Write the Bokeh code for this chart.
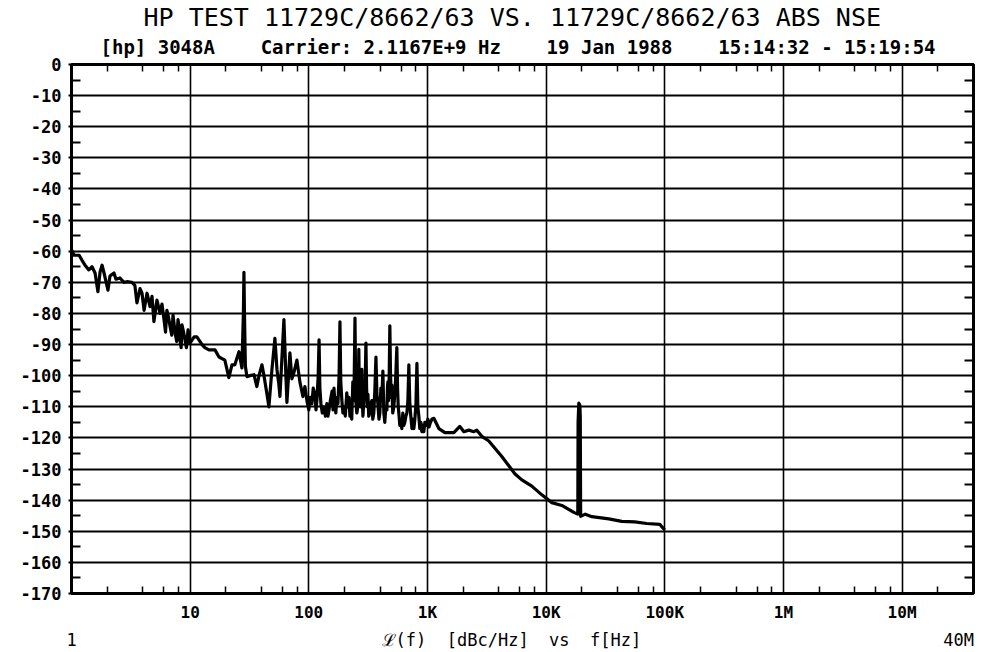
from bokeh.plotting import figure
from bokeh.models import FixedTicker, LogAxis, LinearAxis, ColumnDataSource, Title
from bokeh.embed import file_html
from bokeh.resources import INLINE

# ---- data ----
freq_hz = [
    1.00, 1.05, 1.16, 1.23, 1.30, 1.40, 1.49, 1.58, 1.67, 1.74, 1.81, 1.88, 2.03, 2.11,
    2.28, 2.37, 2.56, 2.77, 2.93, 3.23, 3.42, 3.56, 3.78, 3.93, 4.09, 4.33, 4.59, 4.77,
    4.95, 5.25, 5.57, 5.79, 6.02, 6.20, 6.37, 6.55, 6.76, 7.00, 7.17, 7.30, 7.45, 7.70,
    7.90, 8.05, 8.20, 8.40, 8.53, 8.80, 9.05, 9.30, 9.60, 9.80, 9.97, 10.8,
    11.4, 12.6, 13.3, 14.4, 16.2, 17.5, 19.6, 21.2, 22.5, 23.8, 25.8, 27.3, 28.1, 28.4,
    28.7, 29.2, 30.1, 31.9, 34.5, 36.5, 38.0, 40.3, 41.9, 44.4, 46.1, 48.9, 51.8, 53.9,
    56.0, 57.1, 61.7, 64.1, 65.4, 69.3, 72.0, 74.9, 79.4, 84.1, 89.2, 92.7, 96.4,
    100, 103, 106, 109, 112.6, 115, 117, 120, 122, 124, 126.5, 130, 134, 138, 142, 145,
    148, 152, 157, 160, 163, 166, 169, 172, 176, 180, 183, 186, 190, 194, 197.5, 203,
    209, 213, 218, 222, 226, 230, 235, 240, 245, 249, 254, 259, 262, 264, 267, 269, 273,
    277, 280, 283, 286, 291, 297, 300, 303, 307, 311, 315, 320, 327, 333, 340, 346, 353,
    360, 368, 375, 382, 390, 397, 405, 412, 421, 429, 437, 446, 455, 460, 464, 470, 476,
    482, 488, 495, 501, 510, 521, 530, 541, 552, 560, 567, 574, 585, 597, 608, 620, 632,
    645, 658, 671, 684, 697, 710, 724, 740, 753, 768, 783, 800, 815, 830, 846, 862, 880,
    897, 915, 932, 951, 975, 1008, 1030, 1060, 1090, 1132, 1248, 1402, 1669, 1874, 2026,
    2233, 2460, 2607, 2872, 3290, 4234, 5450, 6242, 7579, 9203, 11175, 13568, 17280,
    18500, 18600, 18870, 19240, 19400, 19550, 21390, 24270, 33750, 43440, 55880, 70540,
    90780, 100000,
]
level_dbc = [
    -59.5, -61.3, -61.3, -63, -64.5, -66, -65, -67, -73, -66.7, -64.5, -67, -72.5, -68,
    -67, -69, -68.6, -70, -69.8, -70, -71, -76.6, -72, -73.5, -79, -73.5, -77.8, -74.5,
    -82.6, -75.7, -80, -77, -82, -86, -79, -81, -84, -87, -80.5, -83, -86, -89,
    -82, -84, -88.5, -91, -83.7, -86, -88.5, -91, -85.3, -87, -89.5, -87.5,
    -87.5, -90, -91, -91.7, -91.7, -94, -95, -100.6, -96.5, -96.5, -92.3, -97.5, -80, -66.8,
    -80, -97, -100.3, -100, -99.7, -103.5, -100, -96.5, -100, -106, -110, -98, -88, -98,
    -103, -106.7, -82, -100, -108.6, -92.7, -101, -99, -95, -102, -106.7, -103.5, -108,
    -111, -107, -109, -104, -106, -111, -108, -100, -88.5, -104, -109, -112, -110, -113, -109, -113,
    -111, -108, -105, -111, -104, -109, -112, -107, -109, -100, -82.7, -102, -108, -112, -110, -113,
    -105.5, -110, -107, -113, -110, -114, -102, -108, -81.5, -108, -112, -110, -103, -91.5, -107, -104, -110,
    -100, -98, -109, -113, -108, -107, -98, -89.5, -104, -110, -106, -113, -112, -109, -108, -114, -112,
    -105, -94, -106, -109, -114, -112, -104, -108, -98.5, -112, -115, -110, -111, -104, -102, -108, -100,
    -84, -99, -107, -103, -112, -110, -106, -100, -91, -104, -110, -112, -116, -114, -117, -112, -116,
    -115, -113, -112, -108, -96.5, -109, -113, -117, -114, -117, -114, -109, -96, -110, -113, -117, -115,
    -118, -116, -118, -115, -116, -114, -116.5, -115, -114, -113.7, -117, -118.3, -118.3, -116.3, -118,
    -117.5, -118, -117.5, -119.5, -121, -126, -131.5, -133.5, -135.5, -138.3, -140.8, -141.7, -144,
    -144.5, -115, -108.8, -109.5, -113, -145.2, -144.5, -145.3, -146, -146.8, -147, -147.5,
    -147.8, -149.6,
]

x_major = [10, 100, 1000, 10000, 100000, 1000000, 10000000]
x_major_labels = ["10", "100", "1K", "10K", "100K", "1M", "10M"]
y_major = list(range(-170, 1, 10))
y_major_labels = [str(v) for v in y_major]

NB = "\u00a0"
title_text = "HP TEST 11729C/8662/63 VS. 11729C/8662/63 ABS NSE"
subtitle_text = ("[hp]" + NB + "3048A" + NB * 4 + "Carrier:" + NB + "2.1167E+9" + NB + "Hz"
                 + NB * 4 + "19" + NB + "Jan" + NB + "1988" + NB * 4
                 + "15:14:32" + NB + "-" + NB + "15:19:54")
x_title_text = "\u2112(f)" + NB * 2 + "[dBc/Hz]" + NB * 2 + "vs" + NB * 2 + "f[Hz]"
x_start_text = "1"
x_end_text = "40M"

# ---- figure ----
MONO = "DejaVu Sans Mono"
p = figure(width=994, height=652, x_axis_type="log", x_range=(1, 4e7), y_range=(-170, 0),
           output_backend="svg", toolbar_location=None,
           min_border_left=71, min_border_right=21, min_border_top=63, min_border_bottom=57)
p.background_fill_color = "white"
p.border_fill_color = "white"
p.outline_line_color = "black"
p.outline_line_width = 3

minor_x = [m * 10 ** d for d in range(0, 8) for m in (2, 4, 6, 8) if m * 10 ** d < 4e7]
minor_y = list(range(-165, 0, 10))

xa = p.xaxis[0]
xa.ticker = FixedTicker(ticks=x_major, minor_ticks=minor_x)
xa.major_label_overrides = dict(zip(x_major, x_major_labels))
xa.axis_line_color = None
xa.major_tick_in = 0
xa.major_tick_out = 0
xa.minor_tick_in = 7
xa.minor_tick_out = 0
xa.minor_tick_line_width = 1.5
xa.minor_tick_line_color = "black"
xa.major_label_text_font = MONO
xa.major_label_text_font_style = "bold"
xa.major_label_text_font_size = "16px"
xa.major_label_text_color = "black"
xa.major_label_standoff = 9

# second row under the axis: "1", the axis title, "40M"
row_ticks = [1.0, 5100.0, 3.0e7]
row_labels = [x_start_text, x_title_text, x_end_text]
xb = LogAxis(ticker=FixedTicker(ticks=row_ticks, minor_ticks=[]),
             major_label_overrides=dict(zip(row_ticks, row_labels)),
             axis_line_color=None, major_tick_line_color=None, minor_tick_line_color=None,
             major_tick_in=0, major_tick_out=0, minor_tick_in=0, minor_tick_out=0,
             major_label_text_font=MONO, major_label_text_font_size="17px",
             major_label_text_color="black", major_label_standoff=5)
p.add_layout(xb, "below")

ya = p.yaxis[0]
ya.ticker = FixedTicker(ticks=y_major, minor_ticks=minor_y)
ya.major_label_overrides = dict(zip(y_major, y_major_labels))
ya.axis_line_color = None
ya.major_tick_in = 0
ya.major_tick_out = 3
ya.major_tick_line_width = 2
ya.major_tick_line_color = "black"
ya.minor_tick_in = 9
ya.minor_tick_out = 0
ya.minor_tick_line_width = 2
ya.minor_tick_line_color = "black"
ya.major_label_text_font = MONO
ya.major_label_text_font_style = "bold"
ya.major_label_text_font_size = "17px"
ya.major_label_text_color = "black"
ya.major_label_standoff = 7

top = LogAxis(ticker=FixedTicker(ticks=x_major, minor_ticks=minor_x),
              major_label_overrides={t: " " for t in x_major},
              major_label_text_font_size="1px", axis_line_color=None,
              major_tick_in=0, major_tick_out=0, minor_tick_in=7, minor_tick_out=0,
              minor_tick_line_width=1.5, minor_tick_line_color="black", major_label_standoff=0)
p.add_layout(top, "above")
right = LinearAxis(ticker=FixedTicker(ticks=y_major, minor_ticks=minor_y),
                   major_label_overrides={t: " " for t in y_major},
                   major_label_text_font_size="1px", axis_line_color=None,
                   major_tick_in=0, major_tick_out=0, minor_tick_in=9, minor_tick_out=0,
                   minor_tick_line_width=2, minor_tick_line_color="black", major_label_standoff=0)
p.add_layout(right, "right")

p.add_layout(Title(text=subtitle_text, align="left", offset=29, standoff=5,
                   text_font=MONO, text_font_size="19px", text_font_style="bold",
                   text_color="black"), "above")
p.add_layout(Title(text=title_text, align="left", offset=72, standoff=0,
                   text_font=MONO, text_font_size="25px", text_font_style="normal",
                   text_color="black"), "above")

p.xgrid.ticker = FixedTicker(ticks=x_major)
p.xgrid.grid_line_color = "black"
p.xgrid.grid_line_width = 1.6
p.ygrid.ticker = FixedTicker(ticks=y_major)
p.ygrid.grid_line_color = "black"
p.ygrid.grid_line_width = 2.2

src = ColumnDataSource(dict(f=freq_hz, L=level_dbc))
p.line("f", "L", source=src, line_color="black", line_width=3.2, line_join="round")

open("out.html", "w").write(file_html(p, INLINE))
